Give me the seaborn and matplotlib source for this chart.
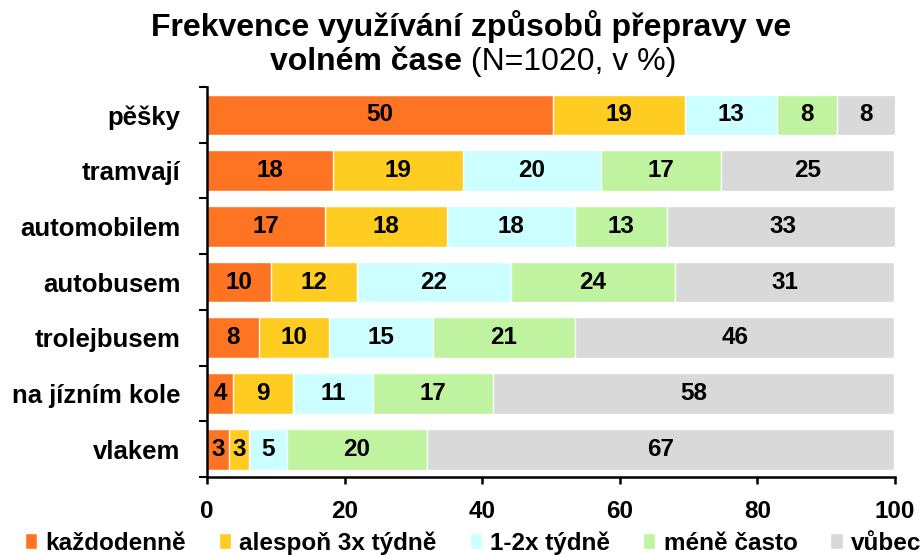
import numpy as np
import pandas as pd
import matplotlib
matplotlib.use('Agg')
import matplotlib.pyplot as plt
import seaborn as sns

# ───────────────────────────────────────────────
# Styling
# ───────────────────────────────────────────────
sns.set_style('white')
plt.rcParams['font.family'] = ['Liberation Sans', 'DejaVu Sans']
plt.rcParams['font.weight'] = 'bold'
for key in ['text.color', 'axes.labelcolor', 'xtick.color', 'ytick.color']:
    plt.rcParams[key] = 'black'

# ───────────────────────────────────────────────
# Data (%)
# ───────────────────────────────────────────────
categories = ['pěšky', 'tramvají', 'automobilem', 'autobusem',
              'trolejbusem', 'na jízním kole', 'vlakem']
series = ['každodenně', 'alespoň 3x týdně', '1-2x týdně', 'méně často', 'vůbec']

kazdodenne = [50.3, 18.3, 17.2, 9.3, 7.6, 3.8, 3.2]
alespon_3x = [19.2, 18.9, 17.7, 12.5, 10.1, 8.7, 2.9]
tydne_1_2x = [13.3, 20.1, 18.6, 22.4, 15.1, 11.6, 5.5]
mene_casto = [8.8, 17.4, 13.4, 23.8, 20.7, 17.5, 20.4]
vubec      = [8.5, 25.2, 33.5, 31.9, 46.4, 58.3, 67.9]

# printed value labels
lab_kazdodenne = [50, 18, 17, 10, 8, 4, 3]
lab_alespon_3x = [19, 19, 18, 12, 10, 9, 3]
lab_tydne_1_2x = [13, 20, 18, 22, 15, 11, 5]
lab_mene_casto = [8, 17, 13, 24, 21, 17, 20]
lab_vubec      = [8, 25, 33, 31, 46, 58, 67]

colors = ['#FF7422', '#FFCC22', '#CCFFFF', '#BFF3A0', '#D9D9D9']

df = pd.DataFrame(dict(zip(series, [kazdodenne, alespon_3x, tydne_1_2x, mene_casto, vubec])),
                  index=categories)
labels = pd.DataFrame(dict(zip(series, [lab_kazdodenne, lab_alespon_3x, lab_tydne_1_2x,
                                        lab_mene_casto, lab_vubec])), index=categories)
cum = df.cumsum(axis=1)

# ───────────────────────────────────────────────
# Plot
# ───────────────────────────────────────────────
fig = plt.figure(figsize=(9.24, 5.55), dpi=100)
ax = fig.add_axes([0.224, 0.1405, 0.7446, 0.7027])

# stacked bars: draw cumulative totals from the largest down
for i in reversed(range(len(series))):
    sns.barplot(x=cum[series[i]].values, y=categories, color=colors[i],
                saturation=1, width=0.73, orient='h', errorbar=None, ax=ax,
                label=series[i])

# value labels in the middle of each segment
for i, s in enumerate(series):
    centers = cum[s] - df[s] / 2
    for j, cat in enumerate(categories):
        ax.text(centers[cat], j, str(labels.loc[cat, s]), ha='center', va='center',
                fontsize=17.5, fontweight='bold', color='black')

ax.set_xlim(0, 100)
ax.set_ylim(6.5, -0.5)
ax.set_xticks(range(0, 101, 20))
ax.set_xlabel('')
ax.set_ylabel('')
ax.tick_params(axis='x', direction='out', length=5, width=1.8, labelsize=17.5, pad=11.5,
               bottom=True)
ax.tick_params(axis='y', which='major', length=0, labelsize=18.5, pad=19)
ax.set_yticks(np.arange(-0.5, 7, 1), minor=True)
ax.tick_params(axis='y', which='minor', direction='out', length=6, width=1.5, left=True)

sns.despine(ax=ax)
for side in ['left', 'bottom']:
    ax.spines[side].set_linewidth(1.8)
    ax.spines[side].set_color('black')

# title (bold + normal part on second line)
fig.text(0.51, 0.935, 'Frekvence využívání způsobů přepravy ve', ha='center', va='baseline',
         fontsize=23, fontweight='bold')
t2 = fig.text(462 / 924, 0.874, 'volném čase', ha='right', va='baseline',
              fontsize=23, fontweight='bold')
ax.annotate(' (N=1020, v %)', xy=(1, 0), xycoords=t2, va='bottom', ha='left',
            fontsize=23, fontweight='normal', annotation_clip=False)

# legend at the bottom of the figure
handles, lbls = ax.get_legend_handles_labels()
ax.get_legend().remove()
order = [lbls.index(s) for s in series]
fig.legend([handles[k] for k in order], [lbls[k] for k in order],
           loc='lower center', bbox_to_anchor=(0.512, -0.006), ncol=5, frameon=False,
           fontsize=17.5, handlelength=0.5, handleheight=0.6, handletextpad=0.35,
           columnspacing=1.35, borderaxespad=0, borderpad=0.15)

fig.savefig('out.png', dpi=100)
